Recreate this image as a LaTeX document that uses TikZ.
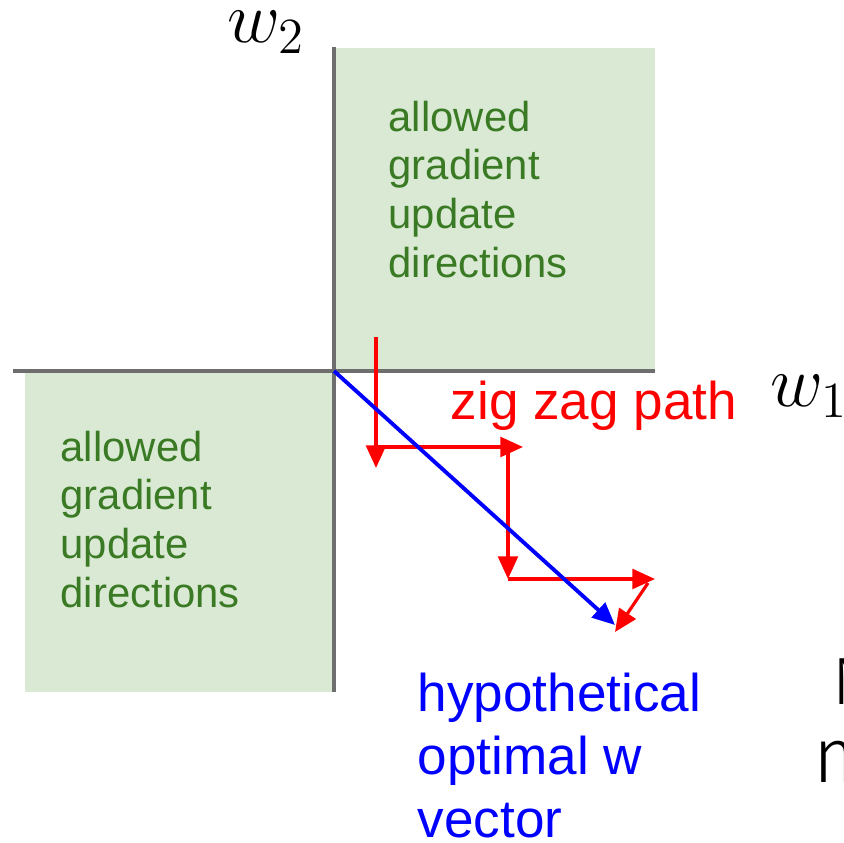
\documentclass[tikz,border=0pt]{standalone}
\usepackage[no-math]{fontspec}
\setmainfont{Liberation Sans}
\newfontfamily\cutfont{Fira Sans Light}
\usepackage{tikz}
\usetikzlibrary{arrows.meta}
\definecolor{axisc}{HTML}{6E6E6E}
\definecolor{allowbg}{HTML}{D9E9D3}
\definecolor{allowtx}{HTML}{3A7A24}
\definecolor{zig}{HTML}{FF0000}
\definecolor{optc}{HTML}{0000FF}
\tikzset{
  axis/.style={draw=axisc,line width=0.9pt},
  allowed/.style={fill=allowbg},
  allowlab/.style={anchor=north west,inner sep=0pt,align=left,text=allowtx,
    font=\fontsize{11.9}{13.9}\selectfont},
  zigstep/.style={-{Triangle[length=6.4pt,width=5.6pt]},line width=0.9pt,draw=zig},
  optvec/.style={zigstep,line width=1.1pt,draw=optc},
  biglab/.style={inner sep=0pt,align=left,font=\fontsize{15.1}{17.9}\selectfont},
  axlab/.style={anchor=base west,inner sep=0pt,font=\fontsize{20}{24}\selectfont},
  cutlab/.style={anchor=base west,inner sep=0pt},
}
\begin{document}
\begin{tikzpicture}[x=0.01cm,y=-0.01cm]
  \path[use as bounding box,clip] (0,0) rectangle (844,843);
  % allowed quadrants
  \fill[allowed] (334,48) rectangle (655,371);
  \fill[allowed] (25,371) rectangle (334,692);
  % axes
  \coordinate (o) at (334,371);
  \coordinate (xl) at (13,371);
  \coordinate (xr) at (655,371);
  \coordinate (yt) at (334,47);
  \coordinate (yb) at (334,692);
  \draw[axis] (xl) -- (xr);
  \draw[axis] (yt) -- (yb);
  \node[axlab] (w2) at (227,43) {$w_2$};
  \node[axlab] (w1) at (770,407) {$w_1$};
  \node[allowlab] (upQ) at (388,100) {allowed\\gradient\\update\\directions};
  \node[allowlab] (loQ) at (60,430) {allowed\\gradient\\update\\directions};
  % zig zag steps
  \coordinate (z0) at (376,337); \coordinate (z1) at (376,468);
  \coordinate (z2) at (376,447); \coordinate (z3) at (523,447);
  \coordinate (z4) at (508,447); \coordinate (z5) at (508,579);
  \coordinate (z6) at (508,579); \coordinate (z7) at (655,579);
  \coordinate (z8) at (648,583); \coordinate (z9) at (615,632);
  \foreach \a/\b in {z0/z1,z2/z3,z4/z5,z6/z7,z8/z9}
    \draw[zigstep] (\a) -- (\b);
  \coordinate (wopt) at (615,625);
  \draw[optvec] (o) -- (wopt);
  \node[biglab,anchor=base west,text=zig] (zz) at (450,420) {zig zag path};
  \node[biglab,anchor=north west,text=optc] (hyp) at (417,672)
    {hypothetical\\optimal w\\vector};
  % cut-off words at the edge
  \node[cutlab,font=\cutfont\fontsize{19}{22}\selectfont] (cutN) at (832,705) {N};
  \node[cutlab,font=\cutfont\fontsize{22}{26}\selectfont] (cutm) at (813,783) {m};
\end{tikzpicture}
\end{document}
